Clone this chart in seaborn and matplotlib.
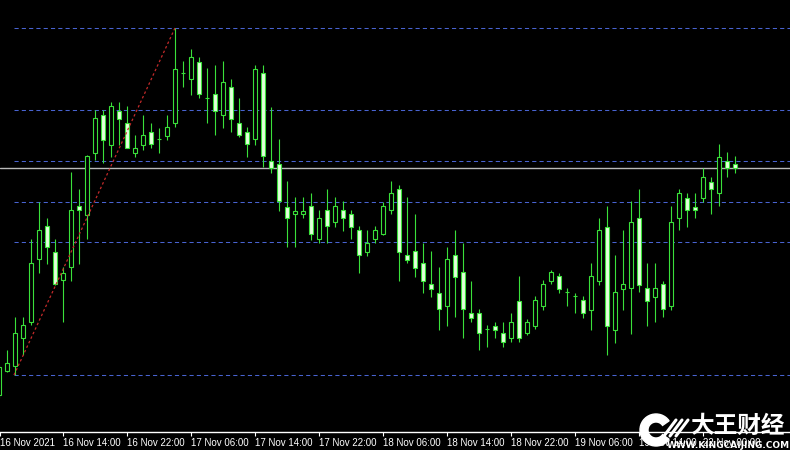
import numpy as np
import pandas as pd
import seaborn as sns
import matplotlib.pyplot as plt
from matplotlib.patches import Rectangle, Wedge

# hourly candles, first one is 16 Nov 06:00 (partly cut off on the left)
open_ = [55, 79, 84, 112, 128, 191, 224, 198, 170, 183, 244, 235, 297, 335, 305, 339,
         327, 297, 305, 318, 311, 314, 327, 377, 371, 388, 352, 356, 335, 363, 327, 318,
         311, 377, 289, 286, 243, 236, 236, 244, 211, 240, 228, 240, 236, 220, 198, 211,
         216, 240, 261, 195, 199, 187, 166, 157, 144, 195, 178, 137, 137, 121, 124, 117,
         112, 149, 117, 124, 144, 169, 174, 158, 154, 150, 140, 169, 223, 120, 161, 162,
         232, 162, 153, 166, 144, 232, 252, 243, 252, 268, 257, 289, 286]
high = [85, 100, 133, 133, 211, 248, 232, 211, 183, 278, 261, 295, 340, 340, 348, 348,
        344, 315, 335, 327, 322, 335, 422, 389, 401, 393, 382, 385, 389, 371, 352, 323,
        385, 385, 343, 311, 269, 253, 253, 257, 240, 261, 253, 249, 240, 224, 220, 224,
        248, 269, 265, 253, 236, 207, 199, 183, 203, 220, 207, 169, 141, 125, 128, 128,
        137, 174, 131, 154, 170, 180, 177, 162, 157, 154, 187, 232, 244, 195, 220, 249,
        261, 187, 187, 169, 244, 261, 257, 257, 282, 273, 306, 298, 294]
low = [52, 78, 75, 95, 125, 177, 186, 165, 128, 169, 186, 211, 290, 287, 293, 305,
       302, 293, 300, 302, 297, 310, 323, 363, 355, 352, 327, 315, 322, 318, 313, 293,
       305, 283, 277, 239, 203, 203, 232, 210, 207, 207, 223, 219, 211, 177, 194, 207,
       215, 236, 169, 187, 173, 157, 153, 120, 124, 133, 112, 128, 100, 103, 112, 103,
       108, 108, 115, 121, 140, 166, 157, 144, 137, 132, 120, 165, 95, 107, 140, 116,
       158, 124, 128, 133, 140, 220, 223, 232, 248, 236, 244, 273, 277]
close = [83, 87, 117, 125, 187, 220, 203, 166, 177, 240, 240, 294, 332, 310, 344, 331,
         302, 302, 315, 306, 311, 323, 381, 377, 393, 356, 352, 339, 368, 331, 315, 306,
         381, 294, 282, 249, 232, 239, 239, 216, 232, 224, 244, 232, 223, 195, 207, 220,
         244, 257, 198, 190, 182, 169, 161, 141, 191, 173, 141, 132, 117, 121, 120, 108,
         128, 112, 128, 150, 166, 178, 161, 158, 154, 137, 174, 220, 124, 158, 166, 228,
         165, 149, 162, 141, 228, 257, 240, 240, 273, 261, 293, 282, 282]

tick_labels = ["16 Nov 2021", "16 Nov 14:00", "16 Nov 22:00", "17 Nov 06:00",
               "17 Nov 14:00", "17 Nov 22:00", "18 Nov 06:00", "18 Nov 14:00",
               "18 Nov 22:00", "19 Nov 06:00", "19 Nov 14:00", "22 Nov 00:00"]

# fibonacci retracement drawn from the low to the high
fib_low = 75
fib_high = 422
fib_levels = [0.0, 0.382, 0.5, 0.618, 0.764, 1.0]
bid_price = 282

sns.set_theme(style="dark", rc={"axes.facecolor": "black", "figure.facecolor": "black",
                                "axes.edgecolor": "white"})
plt.rcParams["font.family"] = ["Liberation Sans", "DejaVu Sans"]

green = "#3ae03a"
fill = "#e4ffdc"

df = pd.DataFrame({"open": open_, "high": high, "low": low, "close": close})
df["idx"] = np.arange(len(df)) - 1
df["bull"] = df["close"] >= df["open"]

fig = plt.figure(figsize=(7.9, 4.5), dpi=100)
ax = fig.add_axes([0, 18 / 450, 1, 432 / 450])
ax.set_xlim(-0.875, 97.875)
ax.set_ylim(18, 450)

# fib levels + trend line
fib_x0 = 0.875
fib_x1 = 21
fib_prices = [fib_low + lv * (fib_high - fib_low) for lv in fib_levels]
ax.hlines(fib_prices, fib_x0, 97.875, colors="#4863d0", lw=0.75,
          linestyles=(0, (4, 3)), zorder=1)
ax.axhline(bid_price, color="#b9b9b9", lw=1.0, zorder=1)
trend = pd.DataFrame({"x": [fib_x0, fib_x1], "y": [fib_low, fib_high]})
sns.lineplot(data=trend, x="x", y="y", ax=ax, color="#c42a2a", lw=0.9,
             linestyle=(0, (2, 2)), zorder=4)

# candles
bw = 0.45
ax.vlines(df["idx"], df["low"], df["high"], color=green, lw=0.8, zorder=2)
for r in df.itertuples():
    lo = min(r.open, r.close)
    hi = max(r.open, r.close)
    ax.add_patch(Rectangle((r.idx - bw / 2, lo), bw, hi - lo,
                           facecolor="black" if r.bull else fill,
                           edgecolor=green, lw=0.8, zorder=3))

ax.set_xlabel("")
ax.set_ylabel("")
ax.set_yticks([])
ax.set_xticks([-0.875] + [7 + 8 * i for i in range(len(tick_labels) - 1)])
ax.set_xticklabels(tick_labels, ha="left", color="white", fontsize=7)
ax.tick_params(axis="x", length=3, width=0.8, color="white", pad=1.5, bottom=True)
for s in ["top", "left", "right"]:
    ax.spines[s].set_visible(False)
ax.spines["bottom"].set_color("white")
ax.spines["bottom"].set_linewidth(1)
ax.grid(False)

# watermark (sits over the last tick labels, as in the screenshot)
wax = fig.add_axes([0, 0, 1, 1], facecolor="none")
wax.set_xlim(0, 790)
wax.set_ylim(450, 0)
wax.axis("off")
wax.add_patch(Wedge((656, 430), 16, 35, 325, width=8, color="white"))
for dx in [0, 6, 12]:
    wax.plot([664 + dx, 676 + dx], [436, 420], color="white", lw=2.2)
wax.text(737, 426, "大王财经", color="white", fontsize=17, fontweight="bold",
         ha="center", va="center", family=["Noto Sans CJK SC", "DejaVu Sans"])
wax.text(728, 445, "WWW.KINGCAIJING.COM", color="white", fontsize=6.5,
         fontweight="bold", ha="center", va="center", family=["DejaVu Sans"])

fig.savefig("out.png", dpi=100, facecolor="black")
